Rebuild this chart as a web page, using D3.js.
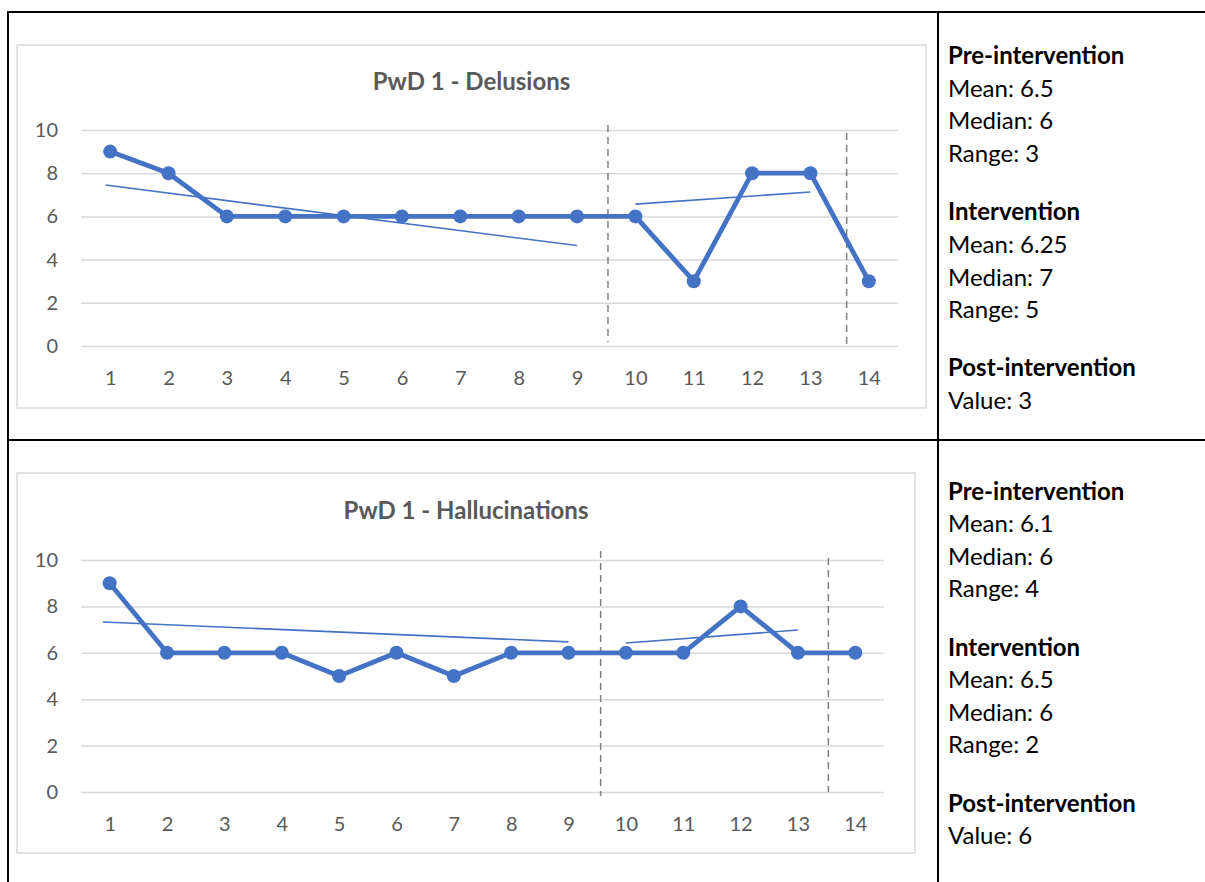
<!DOCTYPE html>
<html>
<head>
<meta charset="utf-8">
<script src="https://cdn.jsdelivr.net/npm/d3@7"></script>
<style>
  html, body { margin: 0; padding: 0; background: #fff; }
  svg { display: block; }
</style>
</head>
<body>
<svg id="page" width="1205" height="882"></svg>
<script>
// Sessions (categories on the x axis)
const sessions = [1, 2, 3, 4, 5, 6, 7, 8, 9, 10, 11, 12, 13, 14];
const yTicks = [0, 2, 4, 6, 8, 10];

// Weekly scores
const delusions = [9, 8, 6, 6, 6, 6, 6, 6, 6, 6, 3, 8, 8, 3];
const hallucinations = [9, 6, 6, 6, 5, 6, 5, 6, 6, 6, 6, 8, 6, 6];

// Hand-fitted trend lines per phase: [session, score] end points
const delusionsTrendPre = [[0.92, 7.45], [9, 4.65]];
const delusionsTrendInt = [[10, 6.57], [13, 7.13]];
const hallucinationsTrendPre = [[0.88, 7.33], [9, 6.47]];
const hallucinationsTrendInt = [[10, 6.42], [13, 6.98]];

// Phase change markers: [session position, top score, bottom score]
const delusionsPhaseLines = [[9.53, 10.23, 0.19], [13.62, 9.86, -0.05]];
const hallucinationsPhaseLines = [[9.56, 10.39, -0.17], [13.53, 10.09, 0]];

// Phase summaries shown next to each chart
const delusionsSummary = [
  { head: "Pre-intervention", lines: ["Mean: 6.5", "Median: 6", "Range: 3"] },
  { head: "Intervention", lines: ["Mean: 6.25", "Median: 7", "Range: 5"] },
  { head: "Post-intervention", lines: ["Value: 3"] }
];
const hallucinationsSummary = [
  { head: "Pre-intervention", lines: ["Mean: 6.1", "Median: 6", "Range: 4"] },
  { head: "Intervention", lines: ["Mean: 6.5", "Median: 6", "Range: 2"] },
  { head: "Post-intervention", lines: ["Value: 6"] }
];

const BLUE = "#4472C4";
const GREY_TEXT = "#595959";
const GRID = "#D9D9D9";
const FONT = "Lato, 'Open Sans', sans-serif";

const svg = d3.select("#page");

// Table frame
const frame = svg.append("g").attr("stroke", "#000").attr("stroke-width", 2);
frame.append("line").attr("x1", 7).attr("x2", 1205).attr("y1", 12).attr("y2", 12);
frame.append("line").attr("x1", 8).attr("x2", 8).attr("y1", 11).attr("y2", 882);
frame.append("line").attr("x1", 938).attr("x2", 938).attr("y1", 11).attr("y2", 882);
frame.append("line").attr("x1", 7).attr("x2", 1205).attr("y1", 440).attr("y2", 440);

const panels = [
  {
    title: "PwD 1 - Delusions", values: delusions,
    trends: [delusionsTrendPre, delusionsTrendInt], phases: delusionsPhaseLines,
    summary: delusionsSummary,
    box: { x0: 17, x1: 926, y0: 45, y1: 408 },
    plot: { x0: 81, x1: 898, yTop: 130, yBottom: 346 },
    titleY: 90,
    textY: 64, lineGap: 32.7, groupGap: 58
  },
  {
    title: "PwD 1 - Hallucinations", values: hallucinations,
    trends: [hallucinationsTrendPre, hallucinationsTrendInt], phases: hallucinationsPhaseLines,
    summary: hallucinationsSummary,
    box: { x0: 17, x1: 915, y0: 473, y1: 853 },
    plot: { x0: 81, x1: 884, yTop: 560, yBottom: 792 },
    titleY: 519,
    textY: 500, lineGap: 32.3, groupGap: 59
  }
];

panels.forEach(p => {
  const g = svg.append("g");

  // Chart area border
  g.append("rect")
    .attr("x", p.box.x0).attr("y", p.box.y0)
    .attr("width", p.box.x1 - p.box.x0).attr("height", p.box.y1 - p.box.y0)
    .attr("fill", "#fff").attr("stroke", GRID).attr("stroke-width", 1.5);

  g.append("text")
    .attr("x", (p.box.x0 + p.box.x1) / 2).attr("y", p.titleY)
    .attr("text-anchor", "middle")
    .attr("font-family", FONT).attr("font-weight", 700).attr("font-size", 24)
    .attr("fill", GREY_TEXT)
    .text(p.title);

  const x = d3.scaleLinear().domain([0.5, sessions.length + 0.5]).range([p.plot.x0, p.plot.x1]);
  const y = d3.scaleLinear().domain([0, 10]).range([p.plot.yBottom, p.plot.yTop]);

  // Horizontal gridlines and y labels
  const yAxis = g.append("g")
    .attr("transform", `translate(${p.plot.x0},0)`)
    .call(d3.axisLeft(y).tickValues(yTicks).tickSize(-(p.plot.x1 - p.plot.x0)).tickPadding(23));
  yAxis.select(".domain").remove();
  yAxis.selectAll(".tick line").attr("stroke", GRID).attr("stroke-width", 1.5);
  yAxis.selectAll(".tick text")
    .attr("font-family", FONT).attr("font-size", 20).attr("fill", GREY_TEXT);

  // Session labels
  const xAxis = g.append("g")
    .attr("transform", `translate(0,${p.plot.yBottom})`)
    .call(d3.axisBottom(x).tickValues(sessions).tickSize(0).tickPadding(25).tickFormat(d3.format("d")));
  xAxis.select(".domain").remove();
  xAxis.selectAll(".tick text")
    .attr("font-family", FONT).attr("font-size", 20).attr("fill", GREY_TEXT);

  // Phase change lines
  g.selectAll(".phase").data(p.phases).join("line")
    .attr("class", "phase")
    .attr("x1", d => x(d[0])).attr("x2", d => x(d[0]))
    .attr("y1", d => y(d[1])).attr("y2", d => y(d[2]))
    .attr("stroke", "#7F7F7F").attr("stroke-width", 1.5)
    .attr("stroke-dasharray", "7,5");

  // Trend lines
  g.selectAll(".trend").data(p.trends).join("line")
    .attr("class", "trend")
    .attr("x1", d => x(d[0][0])).attr("y1", d => y(d[0][1]))
    .attr("x2", d => x(d[1][0])).attr("y2", d => y(d[1][1]))
    .attr("stroke", BLUE).attr("stroke-width", 1.6);

  // Score series
  const pts = sessions.map((s, i) => [s, p.values[i]]);
  g.append("path")
    .datum(pts)
    .attr("d", d3.line().x(d => x(d[0])).y(d => y(d[1])))
    .attr("fill", "none").attr("stroke", BLUE).attr("stroke-width", 4.8)
    .attr("stroke-linejoin", "round");
  g.selectAll(".pt").data(pts).join("circle")
    .attr("class", "pt")
    .attr("cx", d => x(d[0])).attr("cy", d => y(d[1]))
    .attr("r", 7).attr("fill", BLUE);

  // Summary text
  const t = svg.append("g").attr("font-family", FONT).attr("font-size", 24).attr("fill", "#000");
  let yy = p.textY;
  p.summary.forEach((grp, gi) => {
    if (gi > 0) yy += p.groupGap;
    t.append("text").attr("x", 948).attr("y", yy).attr("font-weight", 700).text(grp.head);
    grp.lines.forEach(l => {
      yy += p.lineGap;
      t.append("text").attr("x", 948).attr("y", yy).text(l);
    });
  });
});
</script>
</body>
</html>
